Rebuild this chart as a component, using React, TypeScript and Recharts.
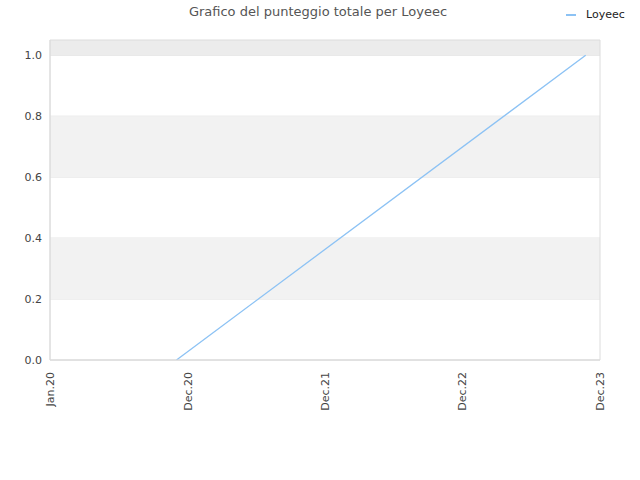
import React from 'react';
import {
  LineChart, Line, XAxis, YAxis, CartesianGrid, ReferenceArea,
} from 'recharts';

// dates of the two scores (UTC ms) and the total score at each
const dates = [Date.UTC(2020, 11, 2), Date.UTC(2023, 10, 24)];
const scores = [0, 1];

// x ticks: year boundaries and their labels
const xTicks = [Date.UTC(2020, 0, 1), Date.UTC(2021, 0, 1), Date.UTC(2022, 0, 1), Date.UTC(2023, 0, 1), Date.UTC(2024, 0, 1)];
const xLabels = ['Jan.20', 'Dec.20', 'Dec.21', 'Dec.22', 'Dec.23'];
const yTicks = [0, 0.2, 0.4, 0.6, 0.8, 1.0];

const data = dates.map((d, i) => ({ date: d, score: scores[i] }));

const FONT = '"DejaVu Sans", Verdana, sans-serif';
const LINE_COLOR = '#8cc2f4';

const XTick = ({ x, y, payload }: any) => {
  const idx = xTicks.indexOf(payload.value);
  const ty = y + 4;
  return (
    <text
      x={x}
      y={ty}
      dy="0.35em"
      transform={`rotate(-90, ${x}, ${ty})`}
      textAnchor="end"
      fontSize={11}
      fill="#444"
      fontFamily={FONT}
    >
      {xLabels[idx]}
    </text>
  );
};

export default function App() {
  return (
    <div style={{ position: 'absolute', left: 0, top: 0, width: 640, height: 480, background: '#fff', fontFamily: FONT }}>
      <div style={{ position: 'absolute', left: 0, width: 636, top: 4, textAlign: 'center', fontSize: 13, color: '#555' }}>
        Grafico del punteggio totale per Loyeec
      </div>
      <div style={{ position: 'absolute', left: 566, top: 8, display: 'flex', alignItems: 'center', fontSize: 11, color: '#222' }}>
        <span style={{ display: 'inline-block', width: 10, height: 2, background: LINE_COLOR, marginRight: 10 }} />
        Loyeec
      </div>
      <LineChart
        width={640}
        height={480}
        data={data}
        margin={{ top: 40, right: 40, left: 10, bottom: 70 }}
      >
        <ReferenceArea y1={1.0} y2={1.05} fill="#ececec" fillOpacity={1} ifOverflow="visible" />
        <ReferenceArea y1={0.6} y2={0.8} fill="#f2f2f2" fillOpacity={1} />
        <ReferenceArea y1={0.2} y2={0.4} fill="#f2f2f2" fillOpacity={1} />
        <CartesianGrid vertical={false} stroke="#e2e2e2" horizontalValues={yTicks} />
        <ReferenceArea
          x1={xTicks[0]}
          x2={xTicks[xTicks.length - 1]}
          y1={0}
          y2={1.05}
          fill="none"
          stroke="#dcdcdc"
          strokeWidth={1}
        />
        <XAxis
          dataKey="date"
          type="number"
          scale="time"
          domain={[xTicks[0], xTicks[xTicks.length - 1]]}
          ticks={xTicks}
          tick={<XTick />}
          tickLine={false}
          axisLine={{ stroke: '#dcdcdc' }}
          height={50}
          interval={0}
        />
        <YAxis
          type="number"
          domain={[0, 1.05]}
          ticks={yTicks}
          tickFormatter={(v: number) => v.toFixed(1)}
          tick={{ fontSize: 11, fill: '#444', fontFamily: FONT }}
          tickLine={false}
          axisLine={{ stroke: '#dcdcdc' }}
          width={40}
          allowDataOverflow
        />
        <Line
          type="linear"
          dataKey="score"
          stroke={LINE_COLOR}
          strokeWidth={1.3}
          dot={false}
          isAnimationActive={false}
        />
      </LineChart>
    </div>
  );
}
